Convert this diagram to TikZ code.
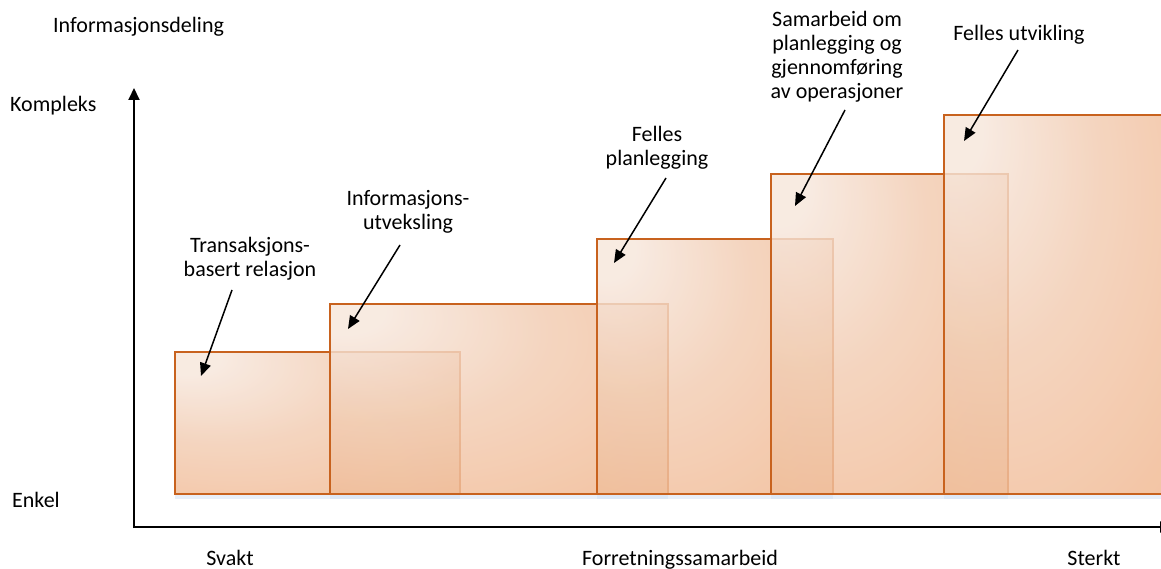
\documentclass[tikz,border=0pt]{standalone}
\usepackage{fontspec}
\setmainfont{Carlito}
\usetikzlibrary{arrows.meta}
\definecolor{boxedge}{RGB}{200,98,30}
\definecolor{boxlight}{RGB}{246,230,219}
\definecolor{boxmid}{RGB}{242,204,178}
\definecolor{boxdark}{RGB}{238,170,122}
\definecolor{glow}{RGB}{205,220,242}
% light glow from the top-left corner, warm orange towards the far corner
\pgfdeclareradialshading{stageshade}{\pgfpoint{-25bp}{25bp}}{color(0bp)=(boxlight); color(6bp)=(boxlight); color(24bp)=(boxmid); color(62bp)=(boxdark); color(80bp)=(boxdark)}
\begin{document}
\begin{tikzpicture}[x=1pt,y=-1pt,
  every node/.style={font=\fontsize{22}{24}\selectfont, inner sep=0pt},
  stage/.style={draw=boxedge, line width=1.8pt, shading=stageshade,
    fill opacity=0.82, anchor=north west, outer sep=0pt},
  label/.style={align=center, anchor=north},
  pointer/.style={line width=1.5pt, -{Triangle[length=13pt,width=11pt]}},
  axis/.style={line width=2pt, -{Triangle[length=12pt,width=11pt]}},
  glowline/.style={glow, line width=4pt, opacity=0.45}]
\useasboundingbox (0,0) rectangle (1161,569);
\clip (0,0) rectangle (1161,569);

% stages of cooperation, drawn left to right
\node[stage, minimum width=285pt, minimum height=142pt] (b1) at (175,352) {};
\node[stage, minimum width=338pt, minimum height=190pt] (b2) at (330,304) {};
\node[stage, minimum width=236pt, minimum height=255pt] (b3) at (597,239) {};
\node[stage, minimum width=237pt, minimum height=320pt] (b4) at (771,174) {};
\node[stage, minimum width=240pt, minimum height=379pt] (b5) at (944,115) {};

% soft shadow under each stage
\foreach \b in {b1,b2,b3,b4,b5}
  \draw[glowline] ([yshift=-3pt]\b.south west) -- ([yshift=-3pt]\b.south east);

% axes
\coordinate (origin) at (134,528);
\coordinate (ytop) at (134,88);
\coordinate (xstart) at (133,527);
\coordinate (xend) at (1172,527);
\draw[axis] (origin) -- (ytop);
\draw[axis] (xstart) -- (xend);

% axis texts
\node[anchor=base west] (yt) at (53,33) {Informasjonsdeling};
\node[anchor=base west] (ymax) at (10,112) {Kompleks};
\node[anchor=base west] (ymin) at (12,507) {Enkel};
\node[anchor=base] (xmin) at (230,565) {Svakt};
\node[anchor=base] (xt) at (680,565) {Forretningssamarbeid};
\node[anchor=base] (xmax) at (1094,565) {Sterkt};

% stage labels
\node[label] (l1) at (250,237) {Transaksjons-\\basert relasjon};
\node[label] (l2) at (408,190) {Informasjons-\\utveksling};
\node[label] (l3) at (657,126) {Felles\\planlegging};
\node[label] (l4) at (837,11) {Samarbeid om\\planlegging og\\gjennomføring\\av operasjoner};
\node[label] (l5) at (1019,25) {Felles utvikling};

% pointers from labels into the stages
\coordinate (s1) at (232,290); \coordinate (t1) at (201,376);
\coordinate (s2) at (400,245); \coordinate (t2) at (348,329);
\coordinate (s3) at (666,178); \coordinate (t3) at (614,263);
\coordinate (s4) at (845,110); \coordinate (t4) at (795,206);
\coordinate (s5) at (1018,50); \coordinate (t5) at (964,141);
\foreach \i in {1,...,5}
  \draw[pointer] (s\i) -- (t\i);
\end{tikzpicture}
\end{document}
